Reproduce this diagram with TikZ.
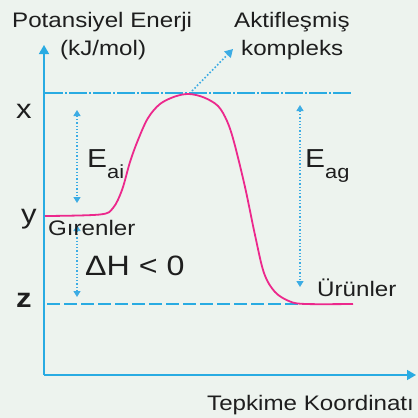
\documentclass[tikz,border=0pt]{standalone}
\usepackage{fontspec}
\setmainfont[FakeStretch=1.15]{Liberation Sans}
\usetikzlibrary{arrows.meta}
\definecolor{axisblue}{RGB}{41,171,226}
\definecolor{dotblue}{RGB}{60,172,228}
\definecolor{curvepink}{RGB}{236,40,140}
\definecolor{bgpaper}{RGB}{237,243,238}
\definecolor{inkgray}{RGB}{30,30,30}

\begin{document}
\begin{tikzpicture}[
        x=1pt, y=-1pt,
        axis/.style={axisblue,line width=1.6pt,-{Triangle[length=9pt,width=10pt]}},
        level/.style={axisblue,line width=2.4pt},
        curve/.style={curvepink,line width=1.8pt},
        span/.style={dotblue,line width=1.3pt,dotted,
            {Triangle[length=6pt,width=7pt]}-{Triangle[length=6pt,width=7pt]}},
        pointer/.style={dotblue,line width=1.6pt,dotted,-{Triangle[length=8pt,width=9pt]}},
        lbl/.style={inner sep=0pt,anchor=base west,text=inkgray,font=\fontsize{21}{25}\selectfont},
        big/.style={lbl,font=\fontsize{27}{30}\selectfont}
    ]
        % page and background
        \fill[bgpaper] (0,0) rectangle (418,418);
        \useasboundingbox (0,0) rectangle (418,418);

        % axes
        \coordinate (O) at (44,375);
        \coordinate (ytop) at (44,45);
        \coordinate (xend) at (416,375);
        \draw[axis] (O) -- (ytop);
        \draw[axis] (O) -- (xend);

        % energy levels
        \coordinate (xs) at (45,93);
        \coordinate (xe) at (352,93);
        \coordinate (zs) at (47,304);
        \coordinate (ze) at (310,304);
        \draw[level,dash pattern=on 18pt off 2pt on 2pt off 2pt] (xs) -- (xe);
        \draw[level,dash pattern=on 13pt off 4pt] (zs) -- (ze);

        % reaction path
        \draw[curve] plot[smooth,tension=0.55] coordinates {
            (45,216) (100,214.5) (113,208) (122,190) (130,162) (138,140)
            (148,118) (160,104) (175,96.5) (189,94) (204,97.5) (218,106)
            (227,121) (234,142) (245,187) (255,235) (264,273) (275,292)
            (290,301.5) (306,304) (353,304)};

        % activation and enthalpy spans
        \coordinate (ai1) at (77,110);
        \coordinate (ai2) at (77,203);
        \coordinate (dh1) at (77,225);
        \coordinate (dh2) at (77,297);
        \coordinate (ag1) at (300,105);
        \coordinate (ag2) at (300,287);
        \draw[span] (ai1) -- (ai2);
        \draw[span] (dh1) -- (dh2);
        \draw[span] (ag1) -- (ag2);

        % labels
        \node[lbl] (ylab) at (12,27) {Potansiyel Enerji};
        \node[lbl] (yunit) at (60,55) {(kJ/mol)};
        \node[lbl] (akt) at (234,27) {Aktifleşmiş};
        \node[lbl] (komp) at (241,55) {kompleks};
        \node[big] (lx) at (16,118) {x};
        \node[big] (ly) at (21,223) {y};
        \node[big,font=\fontsize{27}{30}\selectfont\bfseries] (lz) at (16,307) {z};
        \node[lbl] (gir) at (48,235) {Gırenler};
        \node[lbl] (urun) at (317,296) {Ürünler};
        \node[lbl,font=\fontsize{28}{30}\selectfont] (dh) at (85,275) {ΔH < 0};
        \node[lbl,font=\fontsize{26}{30}\selectfont] (eai) at (87,167)
            {E\raisebox{-11pt}{\fontsize{19}{20}\selectfont ai}};
        \node[lbl,font=\fontsize{26}{30}\selectfont] (eag) at (305,167)
            {E\raisebox{-11pt}{\fontsize{19}{20}\selectfont ag}};
        \node[lbl] (tep) at (207,410) {Tepkime Koordinatı};

        % pointer to the activated complex
        \coordinate (peak) at (192,91);
        \coordinate (ptip) at (233,49);
        \draw[pointer] (peak) -- (ptip);
\end{tikzpicture}
\end{document}
